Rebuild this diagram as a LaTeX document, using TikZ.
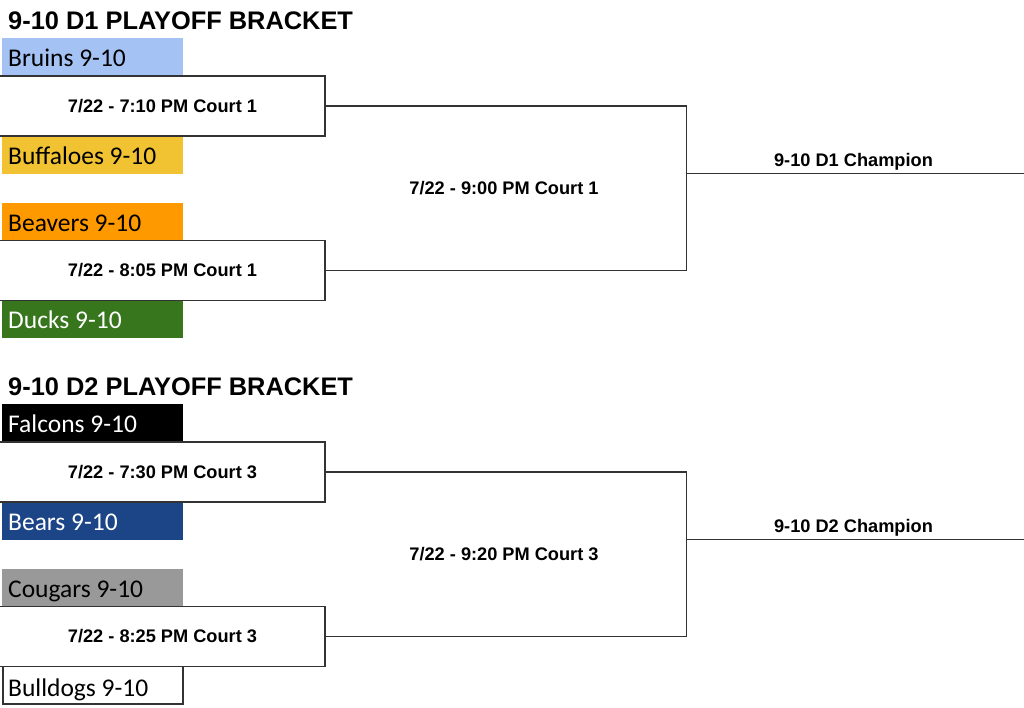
\documentclass[tikz,border=0pt]{standalone}
\usepackage{fontspec}
\setmainfont{Liberation Sans}
\newfontfamily\teamfont{Carlito}
\definecolor{bruinsC}{HTML}{A4C2F4}
\definecolor{buffC}{HTML}{F1C232}
\definecolor{beavC}{HTML}{FF9900}
\definecolor{duckC}{HTML}{38761D}
\definecolor{bearC}{HTML}{1C4587}
\definecolor{cougC}{HTML}{999999}
\definecolor{lineC}{HTML}{333333}
\begin{document}
\begin{tikzpicture}[x=1pt,y=-1pt,
  teambox/.style={anchor=north west, minimum width=181pt, minimum height=38pt, inner sep=0pt, outer sep=0pt, draw=none},
  teamname/.style={anchor=base west, inner sep=0pt, font=\teamfont\fontsize{25.5}{25.5}\selectfont},
  matchbox/.style={draw=lineC, line width=1.6pt, fill=white, minimum width=326pt, minimum height=60pt, inner sep=0pt, outer sep=0pt},
  matchtext/.style={anchor=base, inner sep=0pt, font=\bfseries\fontsize{18.2}{18.2}\selectfont},
  titletext/.style={anchor=base west, inner sep=0pt, font=\bfseries\fontsize{25.4}{25.4}\selectfont},
  conn/.style={draw=lineC, line width=1.6pt}]
\useasboundingbox (0,0) rectangle (1024,707);
\fill[white] (0,0) rectangle (1024,707);

% ---------- D1 ----------
\node[titletext] (t1) at (8,29) {9-10 D1 PLAYOFF BRACKET};
\node[teambox, fill=bruinsC] (a1) at (2,38) {};
\node[teamname] (a1t) at (8,66) {Bruins 9-10};
\node[teambox, fill=buffC] (a2) at (2,136) {};
\node[teamname] (a2t) at (8,164) {Buffaloes 9-10};
\node[teambox, fill=beavC] (a3) at (2,203) {};
\node[teamname] (a3t) at (8,231) {Beavers 9-10};
\node[teambox, fill=duckC] (a4) at (2,300) {};
\node[teamname, text=white] (a4t) at (8,328) {Ducks 9-10};

\node[matchbox] (m1) at (162,106) {};
\node[matchtext] (m1t) at (162.5,112) {7/22 - 7:10 PM Court 1};
\node[matchbox] (m2) at (162,270.5) {};
\node[matchtext] (m2t) at (162.5,276.5) {7/22 - 8:05 PM Court 1};

\coordinate (j1) at (686.5,173.5);
\coordinate (e1) at (1026,173.5);
\draw[conn] (m1.east) -| (j1) |- (m2.east);
\draw[conn] (j1) -- (e1);
\node[matchtext] (s1) at (504,194.5) {7/22 - 9:00 PM Court 1};
\node[matchtext] (c1) at (853.5,166.5) {9-10 D1 Champion};

% ---------- D2 ----------
\node[titletext] (t2) at (8,395) {9-10 D2 PLAYOFF BRACKET};
\node[teambox, fill=black] (b1) at (2,404) {};
\node[teamname, text=white] (b1t) at (8,432) {Falcons 9-10};
\node[teambox, fill=bearC] (b2) at (2,502) {};
\node[teamname, text=white] (b2t) at (8,530) {Bears 9-10};
\node[teambox, fill=cougC] (b3) at (2,569) {};
\node[teamname] (b3t) at (8,597) {Cougars 9-10};
\node[teambox, draw=lineC, line width=1.6pt, fill=white, minimum width=180pt, minimum height=37.5pt] (b4) at (2.7,666.5) {};
\node[teamname] (b4t) at (8,696) {Bulldogs 9-10};

\node[matchbox] (n1) at (162,472) {};
\node[matchtext] (n1t) at (162.5,478) {7/22 - 7:30 PM Court 3};
\node[matchbox] (n2) at (162,636.5) {};
\node[matchtext] (n2t) at (162.5,642.5) {7/22 - 8:25 PM Court 3};

\coordinate (j2) at (686.5,539.5);
\coordinate (e2) at (1026,539.5);
\draw[conn] (n1.east) -| (j2) |- (n2.east);
\draw[conn] (j2) -- (e2);
\node[matchtext] (s2) at (504,560.5) {7/22 - 9:20 PM Court 3};
\node[matchtext] (c2) at (853.5,532.5) {9-10 D2 Champion};
\end{tikzpicture}
\end{document}
